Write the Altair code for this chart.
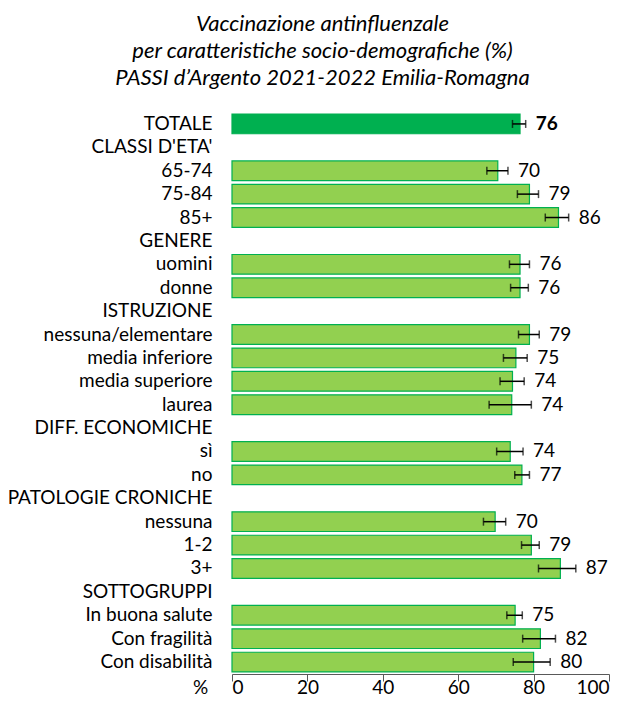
import altair as alt
import pandas as pd

labels = ["TOTALE", "CLASSI D'ETA'", "65-74", "75-84", "85+", "GENERE", "uomini", "donne",
          "ISTRUZIONE", "nessuna/elementare", "media inferiore", "media superiore", "laurea",
          "DIFF. ECONOMICHE", "sì", "no", "PATOLOGIE CRONICHE", "nessuna", "1-2", "3+",
          "SOTTOGRUPPI", "In buona salute", "Con fragilità", "Con disabilità"]
values = [76.4, None, 70.5, 78.9, 86.6, None, 76.4, 76.4, None, 78.9, 75.3, 74.4, 74.2,
          None, 73.8, 76.9, None, 69.8, 79.4, 87.1, None, 75.1, 81.8, 80.0]
lo = [74.4, None, 67.6, 75.7, 83.1, None, 73.6, 73.9, None, 76.0, 72.0, 71.1, 68.2,
      None, 70.2, 75.0, None, 66.7, 76.8, 81.3, None, 72.9, 77.1, 74.6]
hi = [77.9, None, 73.2, 81.3, 89.3, None, 78.9, 78.6, None, 81.5, 78.3, 77.5, 79.4,
      None, 77.2, 78.9, None, 72.6, 81.5, 91.2, None, 77.0, 85.8, 84.4]
shown = ["76", "", "70", "79", "86", "", "76", "76", "", "79", "75", "74", "74",
         "", "74", "77", "", "70", "79", "87", "", "75", "82", "80"]
is_total = [True] + [False] * 23
x_ticks = [0, 20, 40, 60, 80, 100]

df = pd.DataFrame({"cat": labels, "val": values, "lo": lo, "hi": hi,
                   "lab": shown, "total": is_total})
bars_df = df.dropna(subset=["val"])

FONT = "Lato"

y_enc = alt.Y("cat:N", sort=labels,
              scale=alt.Scale(domain=labels, paddingInner=0.16, paddingOuter=0.09),
              axis=alt.Axis(title=None, ticks=False, domain=False, labelPadding=20,
                            labelFontSize=19, labelColor="black", labelFont=FONT,
                            labelLimit=400))
x_scale = alt.Scale(domain=[0, 100], nice=False)

base = alt.Chart(bars_df)

bars = base.mark_bar(stroke="#00B050", strokeWidth=1.2).encode(
    x=alt.X("val:Q", scale=x_scale,
            axis=alt.Axis(values=x_ticks, title="%", grid=False, tickSize=7,
                          tickColor="#595959", domainColor="#595959",
                          labelFontSize=19, labelColor="black", labelFont=FONT,
                          labelBaseline="alphabetic", labelPadding=12,
                          titleFont=FONT, titleFontSize=19,
                          titleFontWeight="normal", titleColor="black",
                          titleAngle=0, titleX=-32, titleY=19,
                          titleAlign="center", titleBaseline="alphabetic")),
    y=y_enc,
    fill=alt.condition("datum.total", alt.value("#00B050"), alt.value("#92D050")),
)

rule = base.mark_rule(color="black", strokeWidth=1.5).encode(
    x=alt.X("lo:Q", scale=x_scale), x2="hi:Q", y=y_enc)
cap_lo = base.mark_tick(color="black", thickness=1.5, size=8).encode(
    x=alt.X("lo:Q", scale=x_scale), y=y_enc)
cap_hi = base.mark_tick(color="black", thickness=1.5, size=8).encode(
    x=alt.X("hi:Q", scale=x_scale), y=y_enc)

text_norm = base.transform_filter("!datum.total").mark_text(
    align="left", baseline="middle", dx=10, fontSize=19, font=FONT, color="black").encode(
    x=alt.X("hi:Q", scale=x_scale), y=y_enc, text="lab:N")
text_bold = base.transform_filter("datum.total").mark_text(
    align="left", baseline="middle", dx=10, fontSize=19, font=FONT, color="black",
    fontWeight="bold").encode(
    x=alt.X("hi:Q", scale=x_scale), y=y_enc, text="lab:N")

chart = alt.layer(bars, rule, cap_lo, cap_hi, text_norm, text_bold).properties(
    width=377, height=562,
    title=alt.TitleParams(
        text=["Vaccinazione antinfluenzale",
              "per caratteristiche socio-demografiche (%)",
              "PASSI d\u2019Argento 2021-2022  Emilia-Romagna"],
        font=FONT, fontSize=22, fontStyle="italic", fontWeight="normal",
        color="black", anchor="middle", dx=-98, offset=22, lineHeight=27),
    autosize=alt.AutoSizeParams(type="none"),
    padding={"left": 224, "top": 104, "right": 11, "bottom": 22},
).configure_view(stroke=None)

chart.save("out.html", embed_options={"renderer": "svg", "actions": False})
